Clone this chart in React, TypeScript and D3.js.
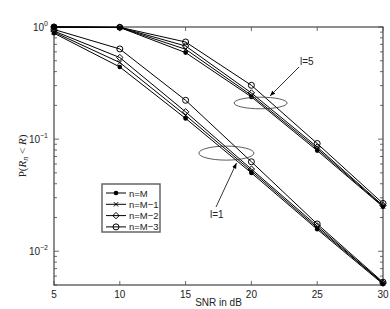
import React, { useEffect, useRef } from 'react'
import * as d3 from 'd3'

// SNR values (dB)
const snr = [5, 10, 15, 20, 25, 30]
const seriesNames = ['n=M', 'n=M\u22121', 'n=M\u22122', 'n=M\u22123']
const markerKinds = ['dot', 'x', 'diamond', 'circle']

// l = 5 group
const l5_M = [1.0, 0.99, 0.591, 0.238, 0.079, 0.0249]
const l5_M1 = [1.0, 0.99, 0.633, 0.246, 0.082, 0.0252]
const l5_M2 = [1.0, 0.992, 0.677, 0.258, 0.085, 0.0256]
const l5_M3 = [1.0, 0.995, 0.735, 0.302, 0.0914, 0.0267]

// l = 1 group
const l1_M = [0.88, 0.44, 0.153, 0.05, 0.0157, 0.0051]
const l1_M1 = [0.9, 0.482, 0.163, 0.052, 0.0162, 0.0052]
const l1_M2 = [0.92, 0.534, 0.175, 0.054, 0.0168, 0.0052]
const l1_M3 = [0.95, 0.637, 0.222, 0.0628, 0.0175, 0.0053]

const xTicks = [5, 10, 15, 20, 25, 30]
const yMajor = [-2, -1, 0]

export default function App() {
  const ref = useRef<SVGSVGElement>(null)

  useEffect(() => {
    const svg = d3.select(ref.current)
    svg.selectAll('*').remove()

    const margin = { top: 27, right: 7, bottom: 24, left: 54 }
    const width = 390
    const height = 309

    const x = d3.scaleLinear().domain([5, 30]).range([margin.left, width - margin.right])
    const y = d3.scaleLog().domain([0.005, 1]).range([height - margin.bottom, margin.top])

    const axisColor = '#444'
    const font = 'Liberation Sans, Arial, sans-serif'

    // ticks
    const g = svg.append('g')
    const minor: number[] = []
    for (let e = -3; e <= 0; e++) {
      for (let k = 1; k <= 9; k++) {
        const v = k * Math.pow(10, e)
        if (v >= 0.005 && v <= 1) minor.push(v)
      }
    }
    minor.forEach(v => {
      const isMajor = Math.abs(Math.log10(v) - Math.round(Math.log10(v))) < 1e-9
      const len = isMajor ? 5 : 3
      g.append('line').attr('x1', x(5)).attr('x2', x(5) + len).attr('y1', y(v)).attr('y2', y(v))
        .attr('stroke', axisColor).attr('stroke-width', 0.8)
      g.append('line').attr('x1', x(30)).attr('x2', x(30) - len).attr('y1', y(v)).attr('y2', y(v))
        .attr('stroke', axisColor).attr('stroke-width', 0.8)
    })
    xTicks.forEach(t => {
      g.append('line').attr('x1', x(t)).attr('x2', x(t)).attr('y1', y(0.005)).attr('y2', y(0.005) - 4)
        .attr('stroke', axisColor).attr('stroke-width', 0.8)
      g.append('line').attr('x1', x(t)).attr('x2', x(t)).attr('y1', y(1)).attr('y2', y(1) + 4)
        .attr('stroke', axisColor).attr('stroke-width', 0.8)
      g.append('text').attr('x', x(t)).attr('y', y(0.005) + 13)
        .attr('text-anchor', 'middle').attr('font-family', font).attr('font-size', 10)
        .attr('fill', '#222').text(t)
    })
    yMajor.forEach(e => {
      const t = g.append('text').attr('x', x(5) - 6).attr('y', y(Math.pow(10, e)) + 4)
        .attr('text-anchor', 'end').attr('font-family', font).attr('font-size', 10).attr('fill', '#222')
      t.append('tspan').text('10')
      t.append('tspan').attr('dy', -5).attr('font-size', 7).text(e === 0 ? '0' : '\u2212' + Math.abs(e))
    })

    // box
    svg.append('rect')
      .attr('x', x(5)).attr('y', y(1))
      .attr('width', x(30) - x(5)).attr('height', y(0.005) - y(1))
      .attr('fill', 'none').attr('stroke', axisColor).attr('stroke-width', 1.2)

    // labels
    svg.append('text').attr('x', (x(5) + x(30)) / 2).attr('y', height - 3)
      .attr('text-anchor', 'middle').attr('font-family', font).attr('font-size', 10).attr('fill', '#222')
      .text('SNR in dB')

    const yl = svg.append('text')
      .attr('transform', `translate(26,${(y(1) + y(0.005)) / 2}) rotate(-90)`)
      .attr('text-anchor', 'middle').attr('font-family', 'Liberation Serif, Times New Roman, serif')
      .attr('font-size', 11).attr('fill', '#222')
    yl.append('tspan').text('P(')
    yl.append('tspan').attr('font-style', 'italic').text('R')
    yl.append('tspan').attr('font-style', 'italic').attr('font-size', 8).attr('dy', 2).text('n')
    yl.append('tspan').attr('dy', -2).text(' < ')
    yl.append('tspan').attr('font-style', 'italic').text('R')
    yl.append('tspan').text(')')

    // series
    const groups = [
      [l5_M, l5_M1, l5_M2, l5_M3],
      [l1_M, l1_M1, l1_M2, l1_M3],
    ]
    const line = d3.line<number>().x((_, i) => x(snr[i])).y(d => y(d))

    const drawMarker = (sel: any, kind: string, cx: number, cy: number) => {
      if (kind === 'dot') {
        sel.append('circle').attr('cx', cx).attr('cy', cy).attr('r', 2.3).attr('fill', '#000')
      } else if (kind === 'x') {
        const s = 2.2
        sel.append('path').attr('d', `M${cx - s},${cy - s}L${cx + s},${cy + s}M${cx - s},${cy + s}L${cx + s},${cy - s}`)
          .attr('stroke', '#000').attr('stroke-width', 1)
      } else if (kind === 'diamond') {
        const s = 3.2
        sel.append('path').attr('d', `M${cx},${cy - s}L${cx + s},${cy}L${cx},${cy + s}L${cx - s},${cy}Z`)
          .attr('fill', 'none').attr('stroke', '#000').attr('stroke-width', 1)
      } else {
        sel.append('circle').attr('cx', cx).attr('cy', cy).attr('r', 3).attr('fill', 'none')
          .attr('stroke', '#000').attr('stroke-width', 1)
      }
    }

    const plot = svg.append('g')
    groups.forEach(grp => {
      grp.forEach((vals, si) => {
        plot.append('path').attr('d', line(vals)).attr('fill', 'none')
          .attr('stroke', '#000').attr('stroke-width', 1)
        vals.forEach((v, i) => drawMarker(plot, markerKinds[si], x(snr[i]), y(v)))
      })
    })

    // annotations
    const ann = svg.append('g')
    const defs = svg.append('defs')
    defs.append('marker').attr('id', 'arr').attr('viewBox', '0 0 10 10').attr('refX', 10).attr('refY', 5)
      .attr('markerWidth', 7).attr('markerHeight', 7).attr('orient', 'auto')
      .append('path').attr('d', 'M0,1L10,5L0,9Z').attr('fill', '#000')

    ann.append('ellipse').attr('cx', x(20.7)).attr('cy', y(0.21)).attr('rx', 26.5).attr('ry', 5.8)
      .attr('fill', 'none').attr('stroke', '#333').attr('stroke-width', 0.8)
    ann.append('line').attr('x1', 299).attr('y1', 67).attr('x2', 270).attr('y2', 96)
      .attr('stroke', '#000').attr('stroke-width', 0.8).attr('marker-end', 'url(#arr)')
    ann.append('text').attr('x', 300).attr('y', 65).attr('font-family', font).attr('font-size', 10)
      .attr('fill', '#222').text('l=5')

    ann.append('ellipse').attr('cx', x(18.1)).attr('cy', y(0.075)).attr('rx', 27.5).attr('ry', 7)
      .attr('fill', 'none').attr('stroke', '#333').attr('stroke-width', 0.8)
    ann.append('line').attr('x1', 216).attr('y1', 207).attr('x2', 236.5).attr('y2', 163)
      .attr('stroke', '#000').attr('stroke-width', 0.8).attr('marker-end', 'url(#arr)')
    ann.append('text').attr('x', 210).attr('y', 218).attr('font-family', font).attr('font-size', 10)
      .attr('fill', '#222').text('l=1')

    // legend
    const lg = svg.append('g').attr('transform', 'translate(102,184)')
    lg.append('rect').attr('width', 58).attr('height', 48).attr('fill', '#fff')
      .attr('stroke', '#666').attr('stroke-width', 1.5)
    seriesNames.forEach((name, i) => {
      const ly = 9 + i * 11.3
      lg.append('line').attr('x1', 4).attr('x2', 24).attr('y1', ly).attr('y2', ly)
        .attr('stroke', '#000').attr('stroke-width', 1)
      drawMarker(lg, markerKinds[i], 14, ly)
      lg.append('text').attr('x', 27).attr('y', ly + 3.5).attr('font-family', font)
        .attr('font-size', 9.5).attr('fill', '#222').text(name)
    })
  })

  return (
    <div>
      <style>{`body{margin:0}`}</style>
      <svg ref={ref} width={390} height={309} style={{ display: 'block', background: '#fff' }}></svg>
    </div>
  )
}
